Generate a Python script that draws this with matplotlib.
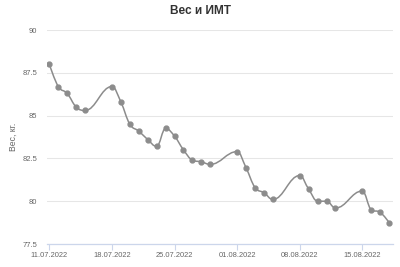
import matplotlib
matplotlib.use("Agg")
import matplotlib.pyplot as plt
import matplotlib.dates as mdates
from matplotlib.path import Path
from matplotlib.patches import PathPatch
import numpy as np
import datetime as dt

plt.rcParams['font.family'] = ['Liberation Sans', 'DejaVu Sans']

dates = ["2022-07-11", "2022-07-12", "2022-07-13", "2022-07-14", "2022-07-15",
         "2022-07-18", "2022-07-19", "2022-07-20", "2022-07-21", "2022-07-22",
         "2022-07-23", "2022-07-24", "2022-07-25", "2022-07-26", "2022-07-27",
         "2022-07-28", "2022-07-29", "2022-08-01", "2022-08-02", "2022-08-03",
         "2022-08-04", "2022-08-05", "2022-08-08", "2022-08-09", "2022-08-10",
         "2022-08-11", "2022-08-12", "2022-08-15", "2022-08-16", "2022-08-17",
         "2022-08-18"]
weights = [88.0, 86.7, 86.3, 85.5, 85.3,
           86.7, 85.8, 84.5, 84.1, 83.6,
           83.2, 84.25, 83.8, 83.0, 82.4,
           82.3, 82.15, 82.9, 81.95, 80.8,
           80.5, 80.1, 81.5, 80.7, 80.0,
           80.0, 79.6, 80.6, 79.5, 79.35,
           78.75]
y_ticks = [77.5, 80, 82.5, 85, 87.5, 90]
y_tick_labels = ["77.5", "80", "82.5", "85", "87.5", "90"]
x_tick_dates = ["2022-07-11", "2022-07-18", "2022-07-25", "2022-08-01", "2022-08-08", "2022-08-15"]
x_tick_labels = ["11.07.2022", "18.07.2022", "25.07.2022", "01.08.2022", "08.08.2022", "15.08.2022"]
title = "Вес и ИМТ"
ylabel = "Вес, кг."

xs = np.array([mdates.date2num(dt.datetime.fromisoformat(d)) for d in dates])
ys = np.array(weights, dtype=float)


def highcharts_spline(x, y, smoothing=1.5):
    denom = smoothing + 1
    n = len(x)
    rc = [None] * n
    verts = [(x[0], y[0])]
    codes = [Path.MOVETO]
    for i in range(1, n):
        px, py = x[i], y[i]
        lx, ly = x[i - 1], y[i - 1]
        lcx, lcy = px, py
        if i < n - 1:
            nx, ny = x[i + 1], y[i + 1]
            lcx = (smoothing * px + lx) / denom
            lcy = (smoothing * py + ly) / denom
            rcx = (smoothing * px + nx) / denom
            rcy = (smoothing * py + ny) / denom
            corr = 0
            if rcx != lcx:
                corr = (rcy - lcy) * (rcx - px) / (rcx - lcx) + py - rcy
            lcy += corr
            rcy += corr
            if lcy > ly and lcy > py:
                lcy = max(ly, py); rcy = 2 * py - lcy
            elif lcy < ly and lcy < py:
                lcy = min(ly, py); rcy = 2 * py - lcy
            if rcy > ny and rcy > py:
                rcy = max(ny, py); lcy = 2 * py - rcy
            elif rcy < ny and rcy < py:
                rcy = min(ny, py); lcy = 2 * py - rcy
            rc[i] = (rcx, rcy)
        prev_rc = rc[i - 1] if rc[i - 1] is not None else (lx, ly)
        verts += [prev_rc, (lcx, lcy), (px, py)]
        codes += [Path.CURVE4, Path.CURVE4, Path.CURVE4]
    return Path(verts, codes)


fig = plt.figure(figsize=(4, 2.67), dpi=100)
ax = fig.add_axes([0.1175, 0.0861, 0.865, 0.8015])

color = "#8c8c8c"
path = highcharts_spline(xs, ys)
ax.add_patch(PathPatch(path, facecolor="none", edgecolor=color, lw=1.1, zorder=3))
ax.plot(xs, ys, linestyle="none", marker="o", markersize=3.5, color=color, zorder=4)

x0 = xs[0]
ax.set_xlim(x0 - 0.26, x0 + 38.43)
ax.set_ylim(77.5, 90)

ax.set_yticks(y_ticks)
ax.set_yticklabels(y_tick_labels)
xt = [mdates.date2num(dt.datetime.fromisoformat(d)) for d in x_tick_dates]
ax.set_xticks(xt)
ax.set_xticklabels(x_tick_labels)

ax.grid(axis="y", color="#e6e6e6", lw=0.75, zorder=0)
ax.set_axisbelow(True)
for s in ["top", "right", "left"]:
    ax.spines[s].set_visible(False)
ax.spines["bottom"].set_color("#ccd6eb")
ax.spines["bottom"].set_linewidth(0.9)
ax.spines["bottom"].set_zorder(1)

ax.tick_params(axis="y", length=0, labelsize=5.5, labelcolor="#666666", pad=7)
ax.tick_params(axis="x", length=4, width=0.8, color="#ccd6eb", labelsize=5.4,
               labelcolor="#666666", pad=1.5)

fig.text(13 / 400, 0.5 * (0.0861 + 0.8876), ylabel, rotation=90, ha="center",
         va="center", fontsize=6.2, color="#666666")
fig.text(0.5, 0.96, title, ha="center", va="center", fontsize=8.6,
         fontweight="bold", color="#333333")

fig.savefig("out.png", dpi=100)
